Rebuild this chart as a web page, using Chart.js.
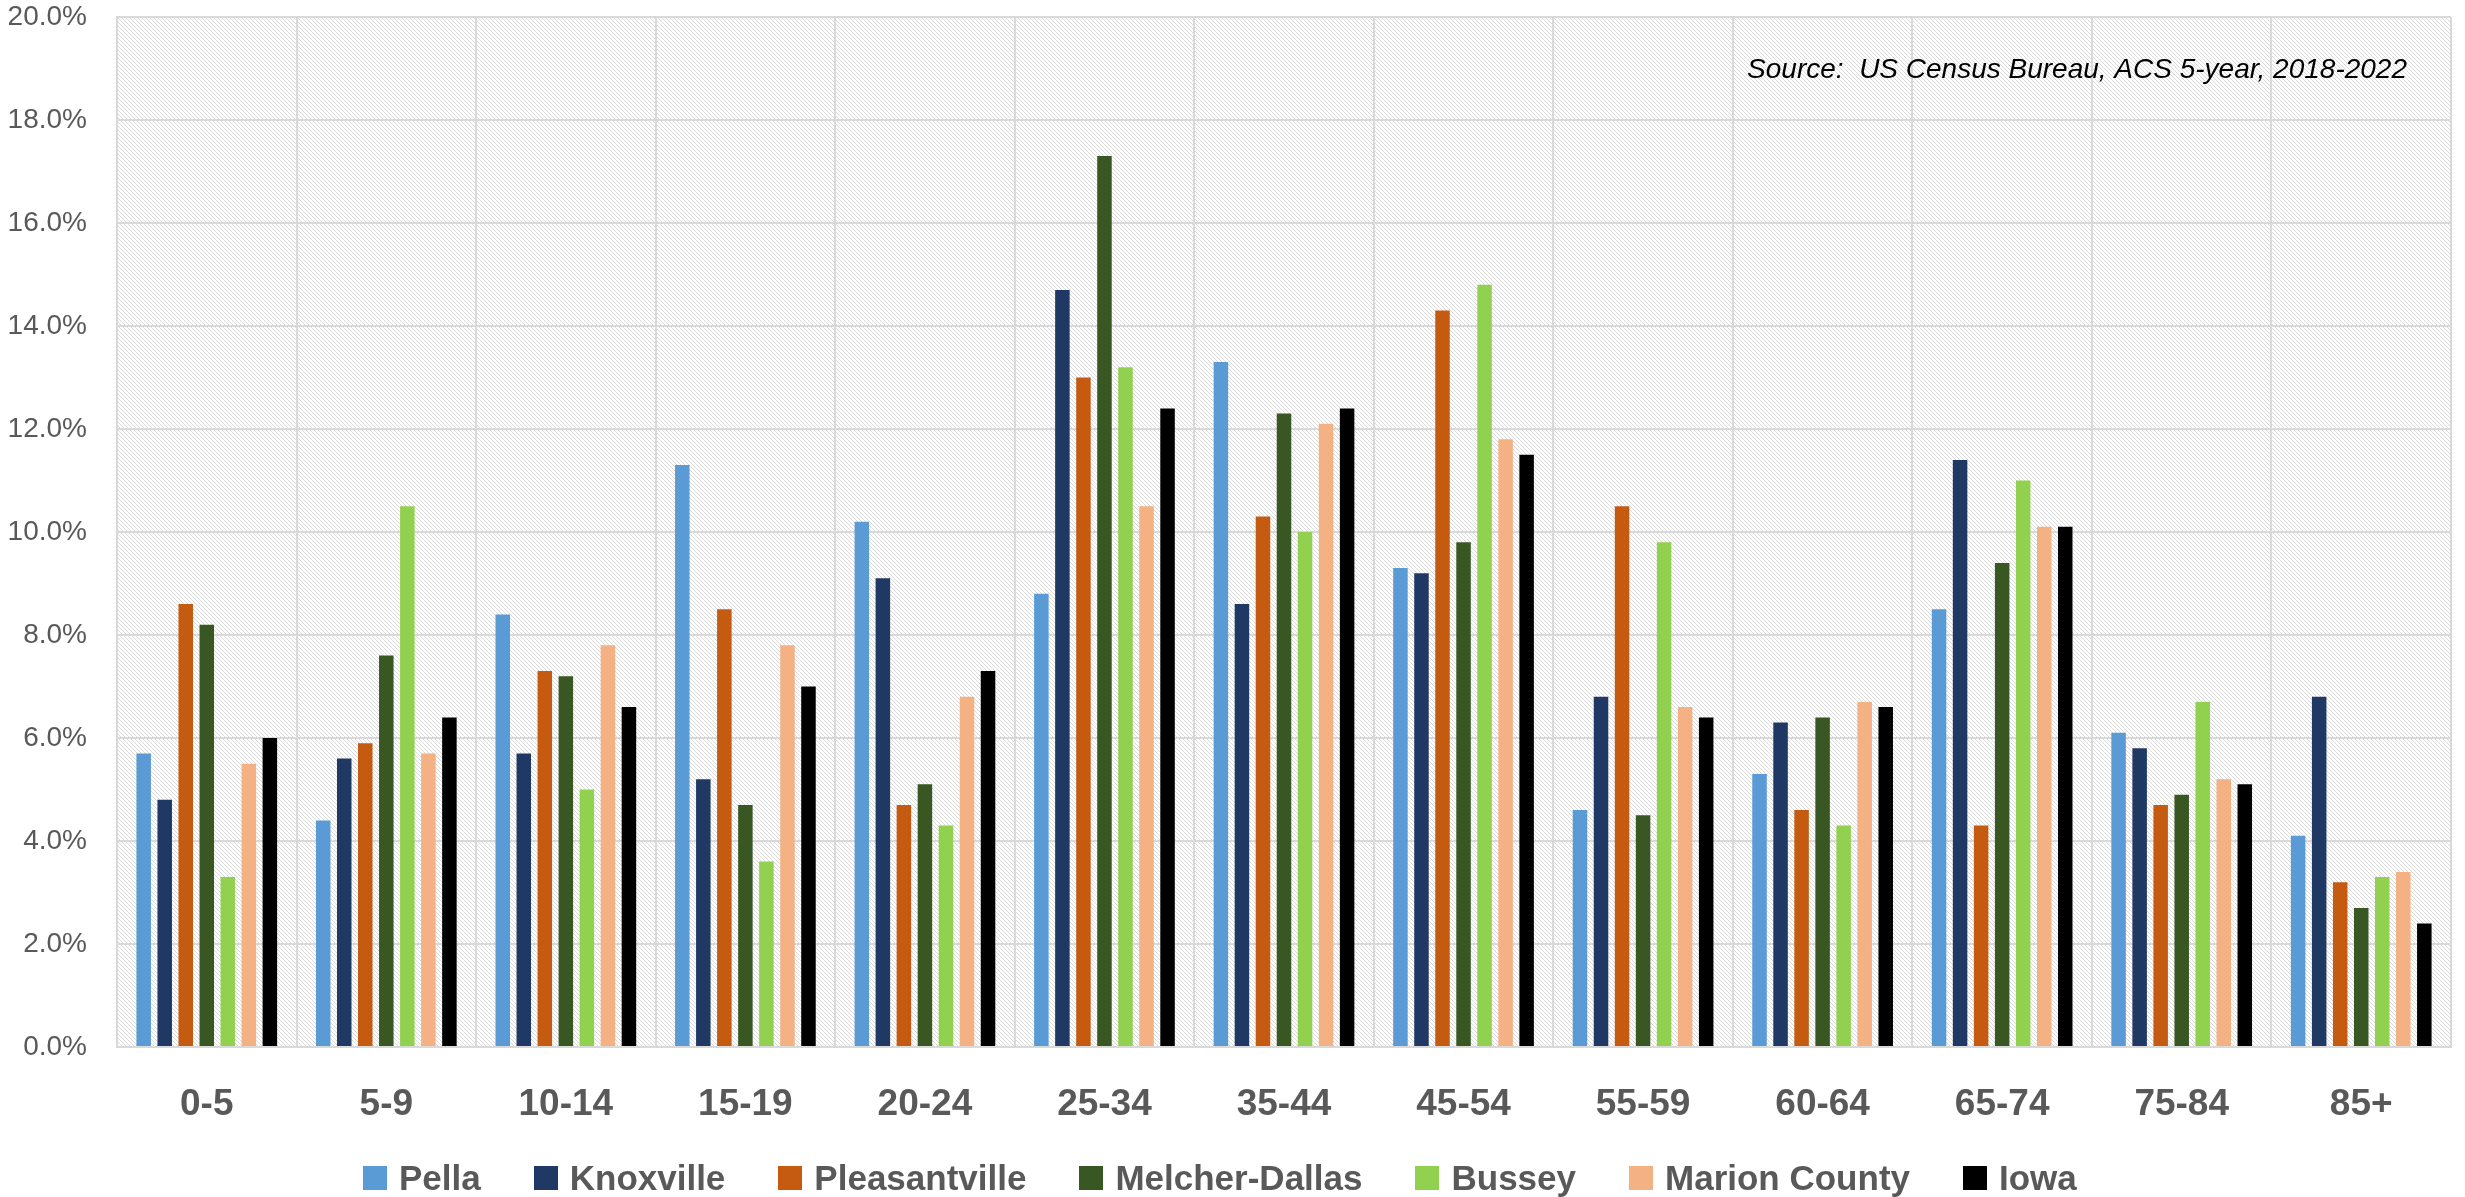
<!DOCTYPE html>
<html>
<head>
<meta charset="utf-8">
<title>Age distribution - Marion County</title>
<script src="https://cdn.jsdelivr.net/npm/chart.js@4.4.1/dist/chart.umd.min.js"></script>
<style>
    html, body {
        margin: 0;
        padding: 0;
        background: #ffffff;
        overflow: hidden;
    }
    #wrap {
        position: relative;
        width: 2465px;
        height: 1197px;
    }
    #legend {
        position: absolute;
        left: 363px;
        top: 1157px;
        height: 42px;
        display: flex;
        align-items: center;
        font-family: 'Liberation Sans', Arial, sans-serif;
        font-weight: bold;
        font-size: 35px;
        color: #595959;
        white-space: nowrap;
    }
    .item {
        display: flex;
        align-items: center;
        margin-right: 53px;
    }
    .box {
        width: 24px;
        height: 24px;
        margin-right: 12px;
    }
</style>
</head>
<body>
<div id="wrap">
    <canvas id="ageChart" width="2465" height="1197"></canvas>
    <div id="legend"></div>
</div>
<script>
// Age groups (x axis)
const ageGroups = ['0-5', '5-9', '10-14', '15-19', '20-24', '25-34', '35-44',
    '45-54', '55-59', '60-64', '65-74', '75-84', '85+'];

// Share of population per age group, in percent
const pella         = [5.7, 4.4, 8.4, 11.3, 10.2, 8.8, 13.3, 9.3, 4.6, 5.3, 8.5, 6.1, 4.1];
const knoxville     = [4.8, 5.6, 5.7, 5.2, 9.1, 14.7, 8.6, 9.2, 6.8, 6.3, 11.4, 5.8, 6.8];
const pleasantville = [8.6, 5.9, 7.3, 8.5, 4.7, 13.0, 10.3, 14.3, 10.5, 4.6, 4.3, 4.7, 3.2];
const melcherDallas = [8.2, 7.6, 7.2, 4.7, 5.1, 17.3, 12.3, 9.8, 4.5, 6.4, 9.4, 4.9, 2.7];
const bussey        = [3.3, 10.5, 5.0, 3.6, 4.3, 13.2, 10.0, 14.8, 9.8, 4.3, 11.0, 6.7, 3.3];
const marionCounty  = [5.5, 5.7, 7.8, 7.8, 6.8, 10.5, 12.1, 11.8, 6.6, 6.7, 10.1, 5.2, 3.4];
const iowa          = [6.0, 6.4, 6.6, 7.0, 7.3, 12.4, 12.4, 11.5, 6.4, 6.6, 10.1, 5.1, 2.4];

const seriesNames = ['Pella', 'Knoxville', 'Pleasantville', 'Melcher-Dallas', 'Bussey', 'Marion County', 'Iowa'];
const seriesData = [pella, knoxville, pleasantville, melcherDallas, bussey, marionCounty, iowa];
const seriesColors = ['#5B9BD5', '#203864', '#C55A11', '#385723', '#92D050', '#F4B183', '#000000'];

// y axis ticks
const yMin = 0;
const yMax = 20;
const yStep = 2;

const sourceNote = 'Source:  US Census Bureau, ACS 5-year, 2018-2022';

const FONT = "'Liberation Sans', Arial, sans-serif";
const GRID = '#d9d9d9';
const TEXT = '#595959';

// Diagonal hatch used as plot area background
function makeHatch() {
    const n = 4;
    const tile = document.createElement('canvas');
    tile.width = n;
    tile.height = n;
    const tctx = tile.getContext('2d');
    tctx.fillStyle = '#ffffff';
    tctx.fillRect(0, 0, n, n);
    tctx.fillStyle = '#dadada';
    for (let i = 0; i < n; i++) {
        tctx.fillRect(i, i, 1, 1);
    }
    return tctx.createPattern(tile, 'repeat');
}

const plotBackground = {
    id: 'plotBackground',
    beforeDraw(chart) {
        const { ctx, chartArea } = chart;
        ctx.save();
        ctx.fillStyle = makeHatch();
        ctx.fillRect(chartArea.left, chartArea.top,
            chartArea.right - chartArea.left, chartArea.bottom - chartArea.top);
        ctx.restore();
    }
};

const sourceText = {
    id: 'sourceText',
    afterDraw(chart) {
        const { ctx, chartArea } = chart;
        ctx.save();
        ctx.font = 'italic 28px ' + FONT;
        ctx.fillStyle = '#000000';
        ctx.textAlign = 'right';
        ctx.textBaseline = 'middle';
        ctx.fillText(sourceNote, chartArea.right - 44, 70);
        ctx.restore();
    }
};

const datasets = seriesNames.map((name, i) => ({
    label: name,
    data: seriesData[i],
    backgroundColor: seriesColors[i],
    borderWidth: 0,
    categoryPercentage: 0.82,
    barPercentage: 0.69
}));

new Chart(document.getElementById('ageChart'), {
    type: 'bar',
    data: {
        labels: ageGroups,
        datasets: datasets
    },
    options: {
        responsive: false,
        animation: false,
        layout: {
            padding: { left: 0, right: 14, top: 17, bottom: 40 }
        },
        plugins: {
            legend: { display: false },
            tooltip: { enabled: false }
        },
        scales: {
            x: {
                grid: {
                    color: GRID,
                    lineWidth: 2,
                    drawTicks: false,
                    offset: true
                },
                border: {
                    color: GRID,
                    width: 2
                },
                ticks: {
                    color: TEXT,
                    padding: 36,
                    font: { family: FONT, size: 37, weight: 'bold' },
                    maxRotation: 0
                },
                afterFit: (scale) => {
                    scale.height = 110;
                    scale.paddingLeft = 0;
                    scale.paddingRight = 0;
                }
            },
            y: {
                min: yMin,
                max: yMax,
                grid: {
                    color: GRID,
                    lineWidth: 2,
                    drawTicks: false
                },
                border: {
                    color: GRID,
                    width: 2
                },
                ticks: {
                    stepSize: yStep,
                    color: TEXT,
                    padding: 30,
                    font: { family: FONT, size: 28 },
                    callback: (value) => value.toFixed(1) + '%'
                },
                afterFit: (scale) => {
                    scale.width = 117;
                    scale.paddingTop = 0;
                    scale.paddingBottom = 0;
                }
            }
        }
    },
    plugins: [plotBackground, sourceText]
});

// Legend below the chart
const legend = document.getElementById('legend');
seriesNames.forEach((name, i) => {
    const item = document.createElement('div');
    item.className = 'item';
    const box = document.createElement('span');
    box.className = 'box';
    box.style.background = seriesColors[i];
    const label = document.createElement('span');
    label.textContent = name;
    item.appendChild(box);
    item.appendChild(label);
    legend.appendChild(item);
});
</script>
</body>
</html>
